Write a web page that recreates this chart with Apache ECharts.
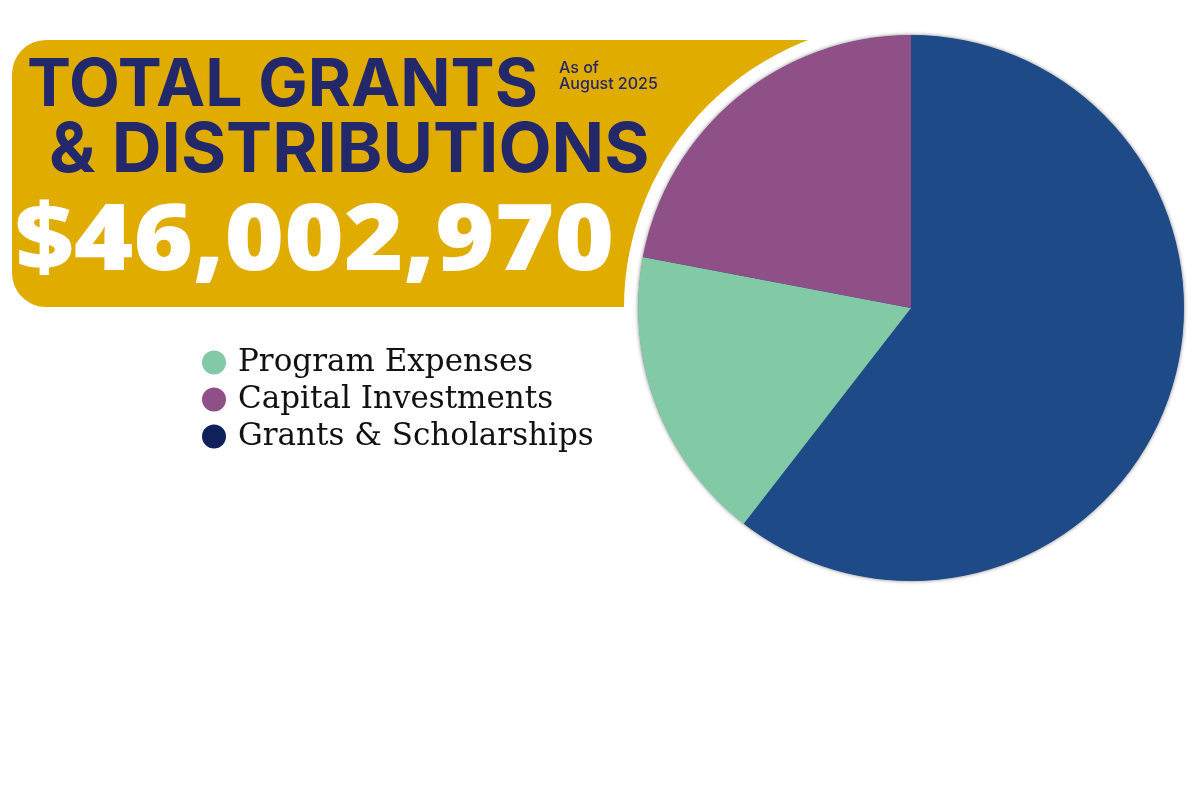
<!DOCTYPE html>
<html><head><meta charset="utf-8">
<script src="https://cdn.jsdelivr.net/npm/echarts@6/dist/echarts.min.js"></script>
<style>html,body{margin:0;padding:0;background:#fff}#c{width:1200px;height:800px}</style>
</head><body><div id="c"></div>
<script>
// ---- data ----
const categories = ['Grants & Scholarships', 'Program Expenses', 'Capital Investments'];
const values = [27830000, 8050000, 10122970];
const legendOrder = ['Program Expenses', 'Capital Investments', 'Grants & Scholarships'];
const titleLines = ['TOTAL GRANTS', '& DISTRIBUTIONS'];
const totalLabel = '$46,002,970';
const asOfLines = ['As of', 'August 2025'];

// ---- styles ----
const sliceColors = {'Grants & Scholarships': '#1F4A88', 'Program Expenses': '#82C9A5', 'Capital Investments': '#8E5086'};
const legendColors = {'Grants & Scholarships': '#10205A', 'Program Expenses': '#82C9A5', 'Capital Investments': '#8E5086'};
const navy = '#23286A';
const gold = '#E0AC00';
const CX = 911, CY = 308, R = 273;

const chart = echarts.init(document.getElementById('c'));
chart.setOption({
  animation: false,
  backgroundColor: '#ffffff',
  graphic: [
    { type: 'rect', z: 1, silent: true, shape: { x: 12, y: 40, width: 880, height: 267, r: [34, 0, 0, 34] }, style: { fill: gold } },
    { type: 'circle', z: 2, silent: true, shape: { cx: CX, cy: CY, r: 287 }, style: { fill: '#ffffff' } },
    { type: 'circle', z: 3, silent: true, shape: { cx: CX, cy: CY, r: R - 0.5 }, style: { fill: '#1F4A88', shadowBlur: 4, shadowColor: 'rgba(0,0,0,0.6)' } },
    { type: 'text', z: 10, silent: true, style: { x: 27, y: 86, text: titleLines[0], fill: navy, font: '700 66px Inter', align: 'left', verticalAlign: 'middle' } },
    { type: 'text', z: 10, silent: true, style: { x: 49, y: 151, text: titleLines[1], fill: navy, font: '700 69px Inter', align: 'left', verticalAlign: 'middle' } },
    { type: 'text', z: 10, silent: true, style: { x: 559, y: 68, text: asOfLines[0], fill: navy, font: '500 16px Inter', align: 'left', verticalAlign: 'middle' } },
    { type: 'text', z: 10, silent: true, style: { x: 559, y: 84, text: asOfLines[1], fill: navy, font: '500 16px Inter', align: 'left', verticalAlign: 'middle' } },
    { type: 'text', z: 10, silent: true, x: 15, y: 243, scaleX: 1.095, style: { x: 0, y: 0, text: totalLabel, fill: '#ffffff', font: '800 93px "Open Sans"', align: 'left', verticalAlign: 'middle' } }
  ],
  legend: {
    orient: 'vertical',
    left: 202,
    top: 347,
    padding: 0,
    icon: 'circle',
    itemWidth: 24,
    itemHeight: 24,
    itemGap: 6,
    selectedMode: false,
    textStyle: { fontFamily: 'DejaVu Serif', fontSize: 31, lineHeight: 31, color: '#111111', padding: [0, 0, 0, 7] },
    data: legendOrder.map(n => ({ name: n, itemStyle: { color: legendColors[n] } }))
  },
  series: [{
    type: 'pie',
    z: 5,
    center: [CX, CY],
    radius: R,
    startAngle: 90,
    clockwise: true,
    silent: true,
    label: { show: false },
    labelLine: { show: false },
    emphasis: { disabled: true },
    itemStyle: { borderWidth: 0 },
    data: categories.map((n, i) => ({ name: n, value: values[i], itemStyle: { color: sliceColors[n] } }))
  }]
});
</script></body></html>
